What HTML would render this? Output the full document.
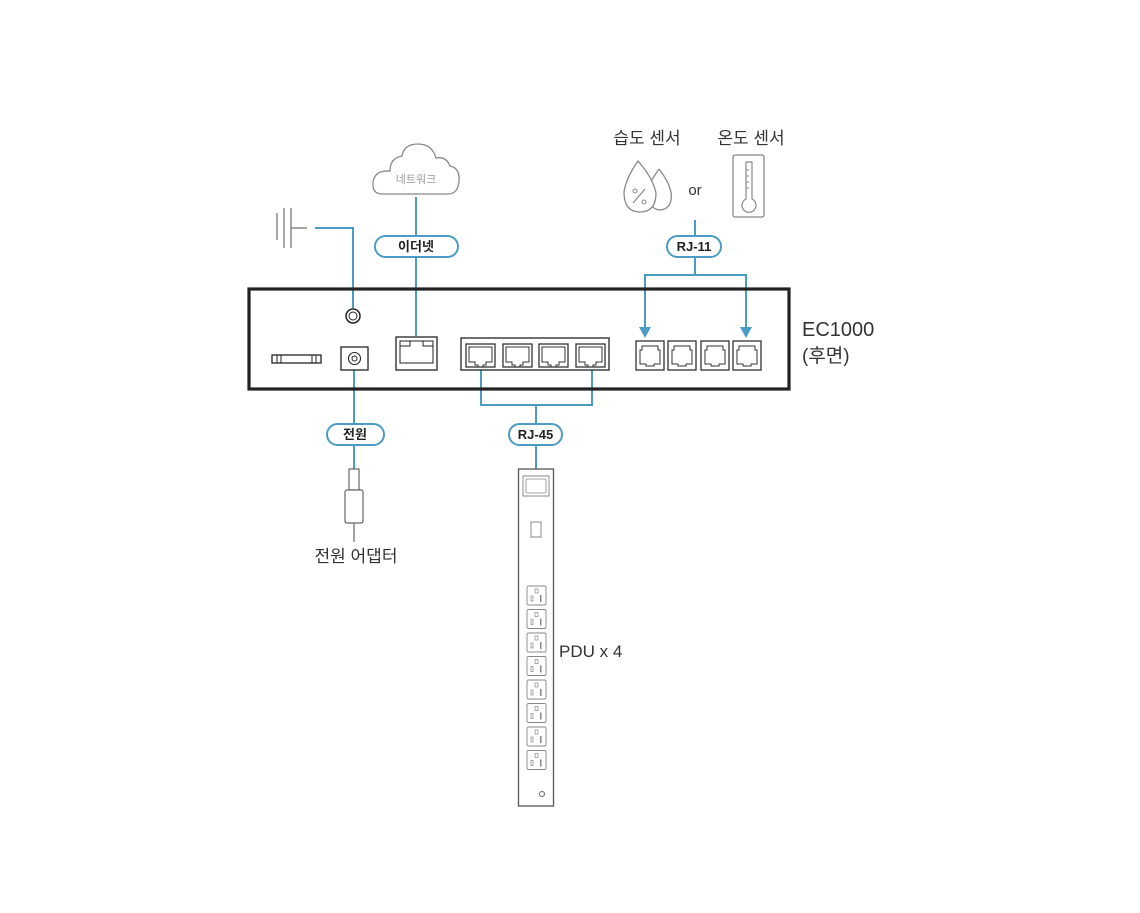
<!DOCTYPE html>
<html><head><meta charset="utf-8"><style>
body{margin:0;background:#fff;}
svg{display:block;font-family:"Liberation Sans","Noto Sans CJK KR",sans-serif;}
</style></head><body>
<svg width="1140" height="913" viewBox="0 0 1140 913">
<defs>
<g id="rj45"><rect x="0" y="0" width="29" height="23" fill="none" stroke="#333" stroke-width="1.3"/><path d="M3 3h23v15h-6v3h-3v2h-5v-2h-3v-3h-6z" fill="none" stroke="#333" stroke-width="1"/></g>
<g id="rj11"><rect x="0" y="0" width="28" height="29" fill="none" stroke="#333" stroke-width="1.3"/><path d="M6 5h16v4h2v14h-6v2h-8v-2h-6v-14h2z" fill="none" stroke="#333" stroke-width="1"/></g>
<g id="outlet"><rect x="0" y="0" width="19" height="19" rx="1.5" fill="none" stroke="#888" stroke-width="0.9"/><rect x="8" y="3" width="3" height="4" fill="none" stroke="#888" stroke-width="0.7"/><rect x="4" y="10" width="2" height="5" fill="none" stroke="#888" stroke-width="0.7"/><rect x="13" y="9" width="1.5" height="7" fill="#888"/></g>
</defs>
<g stroke="#777" stroke-width="1.3" fill="none">
<line x1="277" y1="213" x2="277" y2="240"/><line x1="284" y1="208" x2="284" y2="248"/><line x1="291" y1="208" x2="291" y2="248"/><line x1="291" y1="228" x2="307" y2="228"/>
</g>
<g stroke="#4a9cc4" stroke-width="2" fill="none">
<polyline points="315,228 353,228 353,308"/>
<line x1="416" y1="197" x2="416" y2="336"/>
<line x1="354" y1="370" x2="354" y2="470"/>
<polyline points="481,370 481,405 592,405 592,370"/>
<line x1="536" y1="405" x2="536" y2="470"/>
<line x1="695" y1="220" x2="695" y2="275"/>
<polyline points="645,330 645,275 746,275 746,330"/>
</g>
<polygon points="639,327 651,327 645,338" fill="#4a9cc4"/>
<polygon points="740,327 752,327 746,338" fill="#4a9cc4"/>
<path d="M382 194 Q372 194 373 182 Q375 170 390 171 Q390 158 402 156 Q404 144 418 144 Q432 144 436 158 Q446 156 450 166 Q460 168 459 181 Q458 194 448 194 Z" fill="#fff" stroke="#888" stroke-width="1.3"/>
<text x="416" y="183" font-size="11" fill="#999" text-anchor="middle">네트워크</text>
<g fill="#fff" stroke="#4a9cc4" stroke-width="2">
<rect x="375" y="236" width="83" height="21" rx="10.5"/>
<rect x="327" y="424" width="57" height="21" rx="10.5"/>
<rect x="509" y="424" width="53" height="21" rx="10.5"/>
<rect x="667" y="236" width="54" height="21" rx="10.5"/>
</g>
<g font-size="13" font-weight="bold" fill="#222" text-anchor="middle">
<text x="416" y="251">이더넷</text><text x="355" y="439">전원</text><text x="535.5" y="439">RJ-45</text><text x="694" y="251">RJ-11</text>
</g>
<rect x="249" y="289" width="540" height="100" fill="none" stroke="#222" stroke-width="3.2"/>
<circle cx="353" cy="316" r="7" fill="#fff" stroke="#222" stroke-width="1.5"/><circle cx="353" cy="316" r="4" fill="none" stroke="#222" stroke-width="1"/>
<rect x="272" y="355" width="49" height="8" fill="none" stroke="#222" stroke-width="1.3"/>
<line x1="277" y1="355" x2="277" y2="363" stroke="#222"/><line x1="281" y1="355" x2="281" y2="363" stroke="#222"/><line x1="312" y1="355" x2="312" y2="363" stroke="#222"/><line x1="316" y1="355" x2="316" y2="363" stroke="#222"/>
<rect x="341" y="347" width="27" height="23" fill="none" stroke="#222" stroke-width="1.3"/>
<circle cx="354.5" cy="358.5" r="6" fill="none" stroke="#222" stroke-width="1.1"/><circle cx="354.5" cy="358.5" r="2.5" fill="none" stroke="#222" stroke-width="1"/>
<rect x="396" y="337" width="41" height="33" fill="none" stroke="#222" stroke-width="1.3"/>
<path d="M400 341h33v22h-33z M400 346h10v-5 M423 341v5h10" fill="none" stroke="#222" stroke-width="1"/>
<rect x="461" y="338" width="148" height="32" fill="none" stroke="#222" stroke-width="1.3"/>
<use href="#rj45" x="466" y="344"/><use href="#rj45" x="503" y="344"/><use href="#rj45" x="539" y="344"/><use href="#rj45" x="576" y="344"/>
<use href="#rj11" x="636" y="341"/><use href="#rj11" x="668" y="341"/><use href="#rj11" x="701" y="341"/><use href="#rj11" x="733" y="341"/>
<text x="802" y="336" font-size="20" fill="#333">EC1000</text>
<text x="802" y="362" font-size="19" fill="#333">(후면)</text>
<rect x="349" y="469" width="10" height="21" fill="#fff" stroke="#666" stroke-width="1.2"/>
<rect x="345" y="490" width="18" height="33" rx="2" fill="#fff" stroke="#666" stroke-width="1.2"/>
<line x1="354" y1="523" x2="354" y2="542" stroke="#666" stroke-width="1.2"/>
<text x="356" y="562" font-size="17" fill="#333" text-anchor="middle">전원 어댑터</text>
<rect x="518.5" y="469" width="35" height="337" fill="#fff" stroke="#555" stroke-width="1.3"/>
<rect x="523" y="476" width="26" height="20" fill="none" stroke="#888" stroke-width="1"/>
<rect x="526" y="479" width="20" height="14" rx="1" fill="none" stroke="#888" stroke-width="0.8"/>
<rect x="531" y="522" width="10" height="15" fill="none" stroke="#888" stroke-width="1"/>
<use href="#outlet" x="527" y="586"/><use href="#outlet" x="527" y="609.5"/><use href="#outlet" x="527" y="633"/><use href="#outlet" x="527" y="656.5"/><use href="#outlet" x="527" y="680"/><use href="#outlet" x="527" y="703.5"/><use href="#outlet" x="527" y="727"/><use href="#outlet" x="527" y="750.5"/>
<circle cx="542" cy="794" r="2.5" fill="none" stroke="#666" stroke-width="1"/>
<text x="559" y="657" font-size="17" fill="#333">PDU x 4</text>
<text x="647" y="144" font-size="17" fill="#333" text-anchor="middle">습도 센서</text>
<text x="751" y="144" font-size="17" fill="#333" text-anchor="middle">온도 센서</text>
<path d="M659 169 Q668 180 671 192 Q673 208 661 210 Q655 210 652 206" fill="none" stroke="#888" stroke-width="1.3"/>
<path d="M659 169 Q654 176 652 180" fill="none" stroke="#888" stroke-width="1.3"/>
<path d="M638 161 Q626 178 624 192 Q624 212 640 212 Q656 212 656 193 Q653 178 638 161Z" fill="#fff" stroke="#888" stroke-width="1.3"/>
<line x1="633" y1="203" x2="645" y2="189" stroke="#888" stroke-width="1.2"/><circle cx="635" cy="191" r="2" fill="none" stroke="#888"/><circle cx="644" cy="202" r="2" fill="none" stroke="#888"/>
<text x="695" y="195" font-size="15" fill="#333" text-anchor="middle">or</text>
<rect x="733" y="155" width="31" height="62" rx="2" fill="none" stroke="#888" stroke-width="1.3"/>
<path d="M746 162h6v37a7 7 0 1 1 -6 0z" fill="none" stroke="#888" stroke-width="1.2"/>
<line x1="746" y1="170" x2="749" y2="170" stroke="#888"/><line x1="746" y1="176" x2="749" y2="176" stroke="#888"/><line x1="746" y1="182" x2="749" y2="182" stroke="#888"/><line x1="746" y1="188" x2="749" y2="188" stroke="#888"/>
</svg>
</body></html>
